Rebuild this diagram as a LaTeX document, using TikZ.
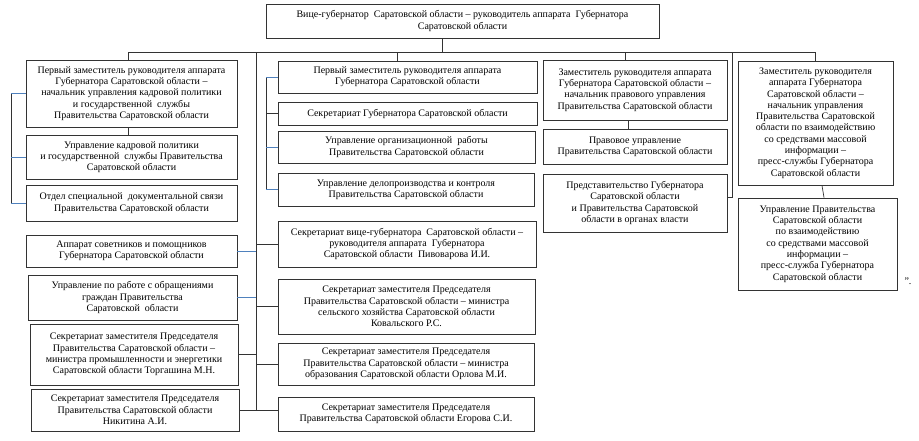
\documentclass[tikz,border=0pt]{standalone}
\usepackage{fontspec}
\setmainfont{Liberation Serif}
\usepackage{tikz}
\usetikzlibrary{positioning}
\definecolor{wordblue}{HTML}{4F81BD}
\definecolor{boxline}{HTML}{333333}

\begin{document}
\begin{tikzpicture}[
    x=1pt, y=-1pt, % pixel-like units, y grows downwards
    box/.style={draw=boxline, line width=0.9pt, align=center, inner sep=0pt,
        font=\fontsize{10}{11.3}\selectfont},
    link/.style={draw=boxline, line width=0.7pt},
    bluelink/.style={draw=wordblue, line width=0.7pt}
]
    \useasboundingbox (0,0) rectangle (919,440);

    % 1. Head of the chart
    \node[box, minimum width=393pt, minimum height=34pt] (head) at (462.5,21)
        {Вице-губернатор \ Саратовской области -- руководитель аппарата \ Губернатора\\Саратовской области};

    % 2. Left column
    \node[box, minimum width=211pt, minimum height=67pt] (L1) at (131.5,93.5)
        {Первый заместитель руководителя аппарата\\Губернатора Саратовской области --\\начальник управления кадровой политики\\и государственной \ службы\\Правительства Саратовской области};
    \node[box, minimum width=211pt, minimum height=44pt] (L2) at (131.5,157)
        {Управление кадровой политики\\и государственной \ службы Правительства\\Саратовской области};
    \node[box, minimum width=211pt, minimum height=36pt] (L3) at (131.5,203)
        {Отдел специальной \ документальной связи\\Правительства Саратовской области};
    \node[box, minimum width=211pt, minimum height=32pt] (L4) at (131.5,251)
        {Аппарат советников и помощников\\Губернатора Саратовской области};
    \node[box, minimum width=209pt, minimum height=45pt] (L5) at (132.5,297.5)
        {Управление по работе с обращениями\\граждан Правительства\\Саратовской \ области};
    \node[box, minimum width=208pt, minimum height=61pt] (L6) at (134,354.5)
        {Секретариат заместителя Председателя\\Правительства Саратовской области --\\министра промышленности и энергетики\\Саратовской области Торгашина М.Н.};
    \node[box, minimum width=208pt, minimum height=42pt] (L7) at (135,410)
        {Секретариат заместителя Председателя\\Правительства Саратовской области\\Никитина А.И.};

    % 3. Middle column
    \node[box, minimum width=259pt, minimum height=32pt] (C1) at (407.5,77)
        {Первый заместитель руководителя аппарата\\Губернатора Саратовской области};
    \node[box, minimum width=259pt, minimum height=23pt] (C2) at (407.5,113.5)
        {Секретариат Губернатора Саратовской области};
    \node[box, minimum width=257pt, minimum height=32pt] (C3) at (406.5,147)
        {Управление организационной \ работы\\Правительства Саратовской области};
    \node[box, minimum width=256pt, minimum height=33pt] (C4) at (406,189.5)
        {Управление делопроизводства и контроля\\Правительства Саратовской области};
    \node[box, minimum width=258pt, minimum height=46pt] (C5) at (407,244)
        {Секретариат вице-губернатора \ Саратовской области --\\руководителя аппарата \ Губернатора\\Саратовской области \ Пивоварова И.И.};
    \node[box, minimum width=257pt, minimum height=55pt] (C6) at (406.5,306.5)
        {Секретариат заместителя Председателя\\Правительства Саратовской области -- министра\\сельского хозяйства Саратовской области\\Ковальского Р.С.};
    \node[box, minimum width=256pt, minimum height=42pt] (C7) at (406,364)
        {Секретариат заместителя Председателя\\Правительства Саратовской области -- министра\\образования Саратовской области Орлова М.И.};
    \node[box, minimum width=256pt, minimum height=34pt] (C8) at (406,414)
        {Секретариат заместителя Председателя\\Правительства Саратовской области Егорова С.И.};

    % 4. Legal column
    \node[box, minimum width=184pt, minimum height=60pt] (R1) at (635,90)
        {Заместитель руководителя аппарата\\Губернатора Саратовской области --\\начальник правового управления\\Правительства Саратовской области};
    \node[box, minimum width=184pt, minimum height=35pt] (R2) at (635,146.5)
        {Правовое управление\\Правительства Саратовской области};
    \node[box, minimum width=184pt, minimum height=58pt] (R3) at (635,203)
        {Представительство Губернатора\\Саратовской области\\и Правительства Саратовской\\области в органах власти};

    % 5. Press column
    \node[box, minimum width=155pt, minimum height=124pt] (F1) at (815.5,123)
        {Заместитель руководителя\\аппарата Губернатора\\Саратовской области --\\начальник управления\\Правительства Саратовской\\области по взаимодействию\\со средствами массовой\\информации --\\пресс-службы Губернатора\\Саратовской области};
    \node[box, minimum width=159pt, minimum height=92pt] (F2) at (817.5,244)
        {Управление Правительства\\Саратовской области\\по взаимодействию\\со средствами массовой\\информации --\\пресс-служба Губернатора\\Саратовской области};
    \node[font=\fontsize{10}{11.3}\selectfont] (quote) at (908,281) {".};

    % 6. Bus and junctions
    \coordinate (jL) at (128,52);
    \coordinate (jT) at (256,52);
    \coordinate (jC) at (397,52);
    \coordinate (jH) at (442,52);
    \coordinate (jR) at (625,52);
    \coordinate (jP) at (732,52);
    \coordinate (jF) at (815,52);
    \coordinate (brL) at (11,0);
    \coordinate (brC) at (266,0);

    \draw[link] (jL) -- (jF);
    \draw[link] (head.south -| jH) -- (jH);
    \draw[link] (jL) -- (jL |- L1.north);
    \draw[link] (jC) -- (jC |- C1.north);
    \draw[link] (jR) -- (jR |- R1.north);
    \draw[link] (jF) -- (jF |- F1.north);
    \draw[link] (jP) |- ([yshift=6pt]R3.east);

    % stems inside the columns
    \draw[link] (L1.south -| jL) -- (L2.north -| jL);
    \draw[link] ([xshift=-7pt]R1.south) -- ([xshift=-7pt]R2.north);
    \draw[link] ([xshift=6.5pt]F1.south) -- ([xshift=6.5pt]F2.north);

    % 7. Brackets
    \draw[link] (brL |- L1.west) -- (brL |- L3.west);
    \foreach \n in {L1,L2,L3}
        \draw[bluelink] (brL |- \n.west) -- (\n.west);
    \draw[link] (brC |- C1.west) -- (brC |- C4.west);
    \foreach \n in {C1,C3,C4}
        \draw[bluelink] (brC |- \n.west) -- (\n.west);
    \draw[link] (brC |- C2.west) -- (C2.west);

    % 8. Trunk with its branches
    \draw[link] (jT) -- (jT |- L7.east);
    \foreach \n in {L4,L5}
        \draw[bluelink] (\n.east) -- (\n.east -| jT);
    \draw[link] (L6.east) -- (L6.east -| jT);
    \draw[link] (L7.east) -- (L7.east -| C8.west);
    \foreach \n in {C5,C6,C7}
        \draw[link] (jT |- \n.west) -- (\n.west);

\end{tikzpicture}
\end{document}
